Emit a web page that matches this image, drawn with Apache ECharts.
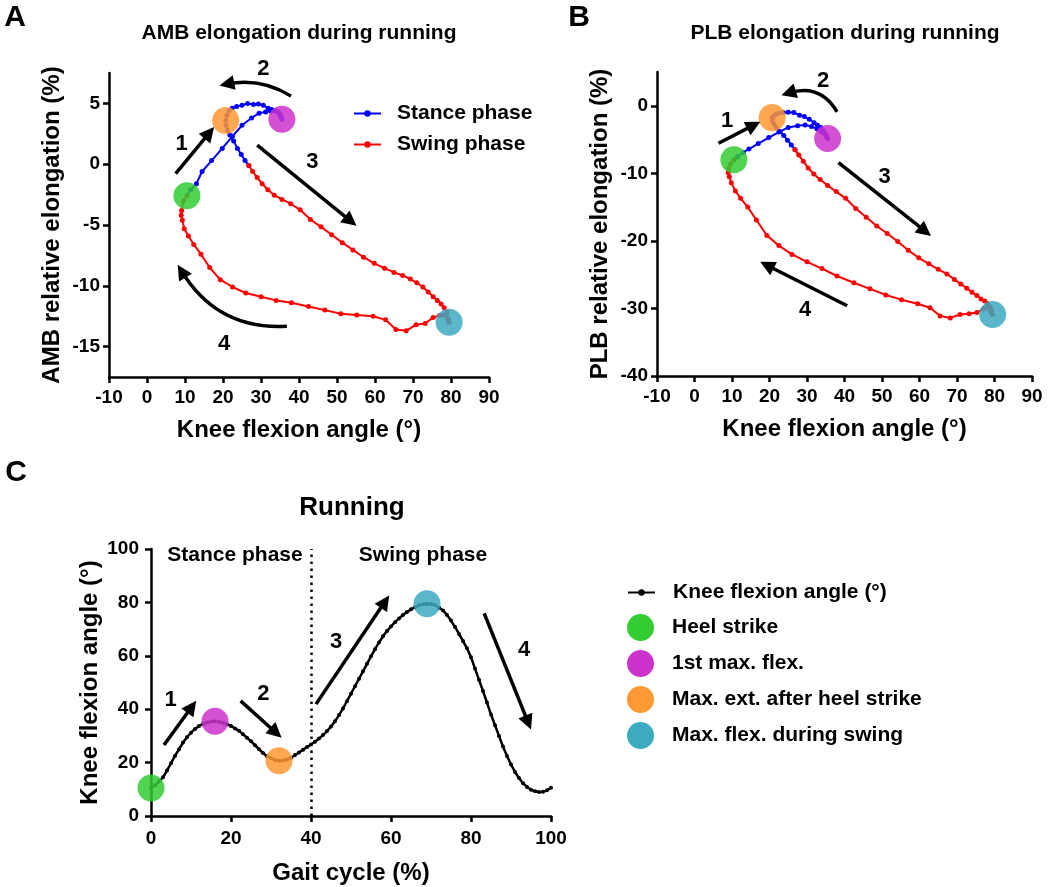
<!DOCTYPE html>
<html><head><meta charset="utf-8">
<script src="https://cdn.jsdelivr.net/npm/echarts@6/dist/echarts.min.js"></script>
<style>html,body{margin:0;padding:0;background:#fff}#c{width:1050px;height:887px}</style>
</head><body><div id="c"></div>
<script>
// ---------------- DATA ----------------
// Knee flexion angle (deg) at each 1% of the gait cycle (index = gait %)
const kneeAngle = [10.5,11.5,13.0,14.5,17.0,19.8,22.5,25.0,27.5,29.5,31.2,32.6,33.7,34.5,35.0,35.3,35.5,
  35.3,34.9,34.4,33.7,32.8,31.9,30.6,29.3,28.0,26.5,25.0,23.6,22.4,21.6,21.0,20.7,
  20.8,21.2,21.8,22.8,23.8,24.8,25.8,26.8,
  27.8,29.0,30.3,31.8,33.5,35.5,37.8,40.3,43.0,45.8,48.6,51.4,54.2,57.0,59.8,62.5,65.0,67.3,69.3,71.0,72.6,74.0,75.3,76.4,77.4,78.2,78.9,79.3,79.5,
  79.4,79.0,78.0,77.0,75.3,73.2,70.8,68.2,65.5,62.8,59.5,55.2,51.0,46.8,42.5,38.0,34.0,30.0,26.0,22.5,19.3,16.5,14.2,12.3,10.9,9.8,9.3,9.0,9.1,9.6,10.6];
// AMB relative elongation (%) at each 1% of the gait cycle
const ambElongation = [-2.6,-2.1,-1.6,-0.6,0.3,1.3,2.3,3.2,3.8,4.2,4.3,4.35,4.4,4.3,4.1,3.9,3.7,
  3.9,4.1,4.3,4.4,4.5,4.6,4.85,4.95,4.9,5.0,4.85,4.75,4.6,4.4,4.0,3.6,
  3.2,2.8,2.4,1.9,1.3,0.8,0.3,-0.1,
  -0.6,-1.1,-1.6,-2.1,-2.55,-2.9,-3.25,-3.75,-4.55,-5.15,-5.8,-6.45,-7.05,-7.65,-8.15,-8.55,-8.9,-9.15,-9.45,-9.75,-10.1,-10.5,-10.9,-11.2,-11.5,-11.8,-12.2,-12.7,-13.0,
  -13.0,-12.7,-12.4,-12.45,-12.6,-13.1,-13.2,-13.7,-13.6,-12.8,-12.5,-12.4,-12.3,-12.0,-11.7,-11.4,-11.2,-10.9,-10.6,-10.1,-9.5,-8.5,-7.4,-6.6,-5.9,-5.3,-4.6,-4.2,-3.8,-3.0,-2.6];
// PLB relative elongation (%) at each 1% of the gait cycle
const plbElongation = [-8.0,-7.5,-6.9,-6.4,-5.6,-4.7,-3.9,-3.2,-2.95,-2.85,-3.05,-3.4,-3.8,-4.1,-4.4,-4.6,-4.85,
  -4.6,-4.2,-3.7,-3.2,-2.9,-2.5,-2.0,-1.6,-1.4,-1.0,-0.95,-1.0,-1.1,-1.3,-1.6,-1.75,
  -2.2,-2.7,-3.2,-3.8,-4.4,-5.1,-5.8,-6.5,
  -7.3,-8.2,-9.2,-10.1,-10.9,-11.8,-12.7,-13.7,-15.2,-16.5,-17.8,-18.9,-20.1,-21.4,-22.5,-23.4,-24.2,-24.9,-25.7,-26.4,-27.0,-27.6,-28.1,-28.6,-28.9,-29.3,-29.8,-30.4,-30.9,
  -30.9,-30.5,-29.9,-30.1,-30.6,-30.8,-30.9,-31.4,-31.1,-29.9,-29.3,-28.7,-28.0,-27.1,-26.2,-25.2,-24.1,-23.1,-22.0,-20.7,-19.2,-16.9,-15.0,-13.7,-12.6,-11.4,-10.5,-9.9,-9.3,-8.6,-8.0];
const stanceEnd = 40;               // % gait cycle where swing starts
const eventNames = ['Heel strike','1st max. flex.','Max. ext. after heel strike','Max. flex. during swing'];
const eventIndex = [0,16,32,69];    // gait % of each event
const phaseNames = ['Stance phase','Swing phase'];
const kneeTicks = [-10,0,10,20,30,40,50,60,70,80,90];
const ambTicks = [-15,-10,-5,0,5];
const plbTicks = [-40,-30,-20,-10,0];
const gaitTicks = [0,20,40,60,80,100];
const angleTicks = [0,20,40,60,80,100];
// annotation arrows in data coordinates [x1,y1,x2,y2]
const arrowsA = [[7.55,-0.77,16.4,2.58],[37.9,5.6,21.0,6.6],[29.0,1.56,53.6,-4.68],[36.8,-13.33,9.1,-8.8]];
const arrowsB = [[6.4,-5.54,15.8,-2.87],[38.0,-0.89,25.1,1.89],[38.4,-8.41,61.5,-18.57],[40.7,-29.6,19.3,-23.6]];
const arrowsC = [[3.25,26.6,10.2,40.9],[22.4,43.1,31.25,31.2],[41.25,41.9,58.5,80.3],[83.3,75.9,94.3,35.0]];
const arrowCurveA = [0,-0.2,0,0.3];
const arrowCurveB = [0,-0.4,0,0];
const arrowTextA = [[9.1,1.65,'1'],[30.6,7.83,'2'],[43.5,0.19,'3'],[20.3,-14.8,'4']];
const arrowTextB = [[8.7,-2.2,'1'],[34.3,3.7,'2'],[50.7,-10.6,'3'],[29.5,-30.2,'4']];
const arrowTextC = [[4.9,43.4,'1'],[28.1,45.7,'2'],[46.25,65.3,'3'],[93.25,62.2,'4']];
const phaseTextC = [[21,97.8,'Stance phase'],[68,97.8,'Swing phase']];

// ---------------- CHART ----------------
const FONT = 'Liberation Sans, Arial, sans-serif';
const eventColors = ['#33cc33','#cc33cc','#ff9933','#3caabf'];
const chart = echarts.init(document.getElementById('c'), null, {renderer:'canvas'});

function axis(gridIndex, min, max, ticks, name, nameGap, labelMargin, isY) {
  return {
    type:'value', gridIndex, min, max,
    name, nameLocation:'middle', nameGap, nameRotate: isY ? 90 : 0,
    nameTextStyle:{color:'#000', fontWeight:'bold', fontSize:24, fontFamily:FONT},
    axisLine:{show:true, onZero:false, lineStyle:{color:'#000', width:2.5}},
    axisTick:{show:true, length:6, lineStyle:{color:'#000', width:2.5}, customValues:ticks},
    axisLabel:{color:'#000', fontWeight:'bold', fontSize:19, fontFamily:FONT, margin:labelMargin, customValues:ticks},
    splitLine:{show:false}
  };
}
function pairs(xs, ys, from, to) {
  const out = [];
  for (let i = from; i <= to; i++) out.push([xs[i], ys[i]]);
  return out;
}
const gaitIdx = kneeAngle.map((v, i) => i);

function loopSeries(name, color, data, gi) {
  return {type:'line', name, xAxisIndex:gi, yAxisIndex:gi, data, color,
    lineStyle:{color, width:2}, itemStyle:{color}, symbol:'circle', symbolSize:5, showAllSymbol:true, z:2, clip:false};
}
function arrowSeries(arrows, curves, gi) {
  return arrows.map((a, k) => ({
    type:'lines', coordinateSystem:'cartesian2d', xAxisIndex:gi, yAxisIndex:gi, z:4,
    symbol:['none','triangle'], symbolSize:[13,15],
    lineStyle:{color:'#000', width:3.5, opacity:1, curveness: curves ? curves[k] : 0},
    data:[{coords:[[a[0],a[1]],[a[2],a[3]]]}], silent:true
  }));
}
function eventSeries(gi, xs, ys) {
  return eventNames.map((nm, k) => ({
    type:'scatter', name:nm, xAxisIndex:gi, yAxisIndex:gi, z:3, clip:false,
    symbolSize:27, itemStyle:{color:eventColors[k], opacity:0.85},
    data:[[xs[eventIndex[k]], ys[eventIndex[k]]]]
  }));
}

const series = [];
series.push(loopSeries(phaseNames[0], '#0000ff', pairs(kneeAngle, ambElongation, 0, stanceEnd), 0));
series.push(loopSeries(phaseNames[1], '#ff0000', pairs(kneeAngle, ambElongation, stanceEnd, kneeAngle.length-1), 0));
series.push(loopSeries(phaseNames[0], '#0000ff', pairs(kneeAngle, plbElongation, 0, stanceEnd), 1));
series.push(loopSeries(phaseNames[1], '#ff0000', pairs(kneeAngle, plbElongation, stanceEnd, kneeAngle.length-1), 1));
series.push({type:'line', name:'Knee flexion angle (°)', xAxisIndex:2, yAxisIndex:2, z:2,
  data:pairs(gaitIdx, kneeAngle, 0, kneeAngle.length-1), color:'#000',
  lineStyle:{color:'#000', width:2.5}, itemStyle:{color:'#000'}, symbol:'circle', symbolSize:4, showAllSymbol:true,
  markLine:{silent:true, symbol:'none', label:{show:false}, lineStyle:{color:'#000', type:[2.5,4.5], width:2.5},
    data:[[{coord:[stanceEnd, angleTicks[0]]},{coord:[stanceEnd, angleTicks[angleTicks.length-1]]}]]}
});
series.push(...eventSeries(0, kneeAngle, ambElongation));
series.push(...eventSeries(1, kneeAngle, plbElongation));
series.push(...eventSeries(2, gaitIdx, kneeAngle));
series.push(...arrowSeries(arrowsA, arrowCurveA, 0));
series.push(...arrowSeries(arrowsB, arrowCurveB, 1));
series.push(...arrowSeries(arrowsC, null, 2));

const legendText = {color:'#000', fontWeight:'bold', fontSize:21, fontFamily:FONT};
function txt(x, y, text, size) {
  return {type:'text', x, y, z:10, style:{text, font:'bold ' + size + 'px ' + FONT, fill:'#000', align:'center', verticalAlign:'middle'}};
}
const option = {
  animation:false,
  backgroundColor:'#fff',
  grid:[
    {left:109, top:73, width:380, height:304},
    {left:657, top:72, width:375, height:304},
    {left:151, top:549, width:400, height:267}
  ],
  xAxis:[
    Object.assign(axis(0, -10, 90, kneeTicks, 'Knee flexion angle (°)', 41, 11, false), {interval:10}),
    Object.assign(axis(1, -10, 90, kneeTicks, 'Knee flexion angle (°)', 41, 11, false), {interval:10}),
    Object.assign(axis(2, 0, 100, gaitTicks, 'Gait cycle (%)', 45, 13, false), {interval:20})
  ],
  yAxis:[
    axis(0, -17.5, 7.5, ambTicks, 'AMB relative elongation (%)', 45, 9, true),
    Object.assign(axis(1, -40, 5, plbTicks, 'PLB relative elongation (%)', 45, 9, true), {interval:10}),
    Object.assign(axis(2, 0, 100, angleTicks, 'Knee flexion angle (°)', 49, 12, true), {interval:20})
  ],
  legend:[
    {data:phaseNames, left:353, top:103, padding:0, orient:'vertical', itemWidth:27, itemHeight:8, itemGap:10,
     textStyle:Object.assign({padding:[0,0,0,11]}, legendText), selectedMode:false},
    {data:['Knee flexion angle (°)'], left:627, top:582, padding:0, orient:'vertical', itemWidth:27, itemHeight:8,
     textStyle:Object.assign({padding:[0,0,0,13]}, legendText), selectedMode:false},
    {data:eventNames, left:627, top:614, padding:0, orient:'vertical', itemWidth:27, itemHeight:27, itemGap:9, icon:'circle',
     itemStyle:{opacity:1}, textStyle:Object.assign({padding:[0,0,0,13]}, legendText), selectedMode:false}
  ],
  graphic:[
    txt(15, 18, 'A', 30), txt(579, 18, 'B', 30), txt(16, 473, 'C', 30),
    txt(299, 33, 'AMB elongation during running', 21),
    txt(845, 33, 'PLB elongation during running', 21),
    txt(352, 508, 'Running', 26)
  ],
  series
};
chart.setOption(option);

// annotation texts placed through the grids' own scales
const extra = [];
[[arrowTextA, 0, 22], [arrowTextB, 1, 22], [arrowTextC, 2, 22], [phaseTextC, 2, 21]].forEach(([items, gi, size]) => {
  items.forEach(t => {
    const p = chart.convertToPixel({gridIndex: gi}, [t[0], t[1]]);
    extra.push(txt(p[0], p[1], t[2], size));
  });
});
chart.setOption({graphic: option.graphic.concat(extra)});
</script>
</body></html>
